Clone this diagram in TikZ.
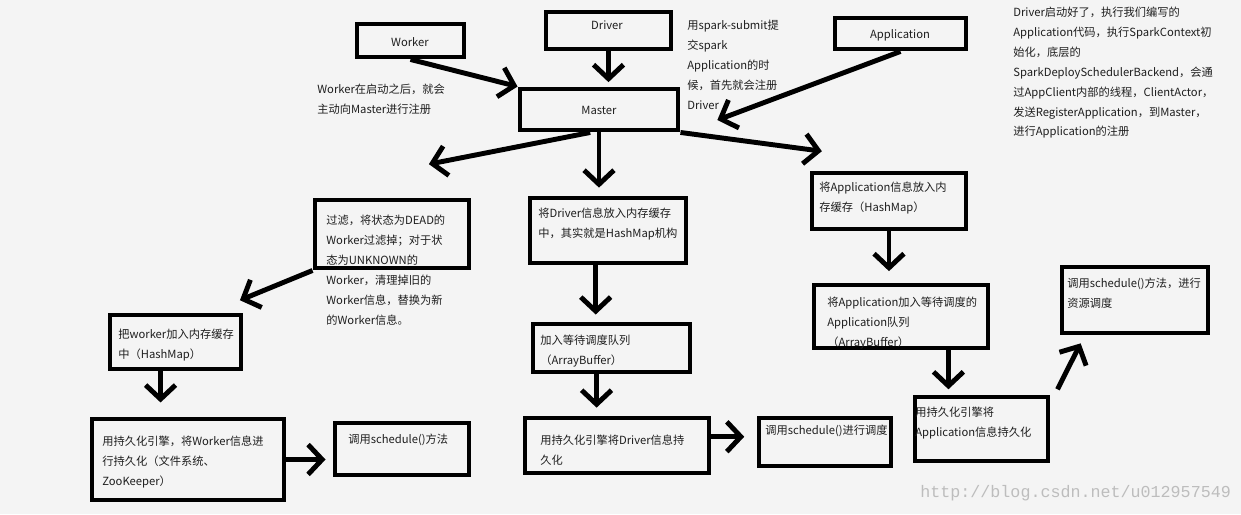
\documentclass[tikz,border=0pt]{standalone}
\usepackage{fontspec}
\setmainfont{Noto Sans CJK SC}
\newfontfamily\wmfont{Liberation Mono}
\usepackage{tikz}
\usetikzlibrary{arrows.meta}
\usetikzlibrary{fit}
\definecolor{bgcol}{HTML}{F4F4F4}
\definecolor{txtcol}{HTML}{1E1E1E}
\definecolor{wmcol}{HTML}{BDBDBD}
\tikzset{
  box/.style={draw=black, line width=2.8pt, inner sep=0pt},
  arr/.style={line width=2.8pt, -{Straight Barb[length=8pt,width=17pt]}},
  title/.style={anchor=base, inner sep=0pt, text=txtcol,
    font=\fontsize{6.4}{11.3}\selectfont},
  note/.style={anchor=north west, inner sep=0pt, align=left, text=txtcol,
    font=\fontsize{6.4}{11.3}\selectfont},
}

\begin{document}
\begin{tikzpicture}[x=0.02cm, y=-0.02cm]
\fill[bgcol] (0,0) rectangle (1241,514);
\useasboundingbox (0,0) rectangle (1241,514);
% draws boxes
\node[box, fit={(357,24) (464,57)}] (worker) {};
\node[box, fit={(546,12) (671,49)}] (driver) {};
\node[box, fit={(835,18) (966,49)}] (app) {};
\node[box, fit={(520,89) (678,130)}] (master) {};
\node[box, fit={(315,200) (469,268)}] (filter) {};
\node[box, fit={(530,198) (686,263)}] (dmap) {};
\node[box, fit={(812,173) (966,229)}] (amap) {};
\node[box, fit={(110,315) (241,369)}] (wmap) {};
\node[box, fit={(533,324) (690,372)}] (dbuf) {};
\node[box, fit={(814,285) (988,348)}] (abuf) {};
\node[box, fit={(92,419) (284,500)}] (wpers) {};
\node[box, fit={(335,423) (469,475)}] (sched1) {};
\node[box, fit={(525,418) (709,473)}] (dpers) {};
\node[box, fit={(759,418) (891,466)}] (sched2) {};
\node[box, fit={(915,397) (1048,461)}] (apers) {};
\node[box, fit={(1062,267) (1208,333)}] (sched3) {};
% writes texts
\node[title] (worker-t) at (410,46) {Worker};
\node[title] (driver-t) at (607,29) {Driver};
\node[title] (master-t) at (599,114) {Master};
\node[title] (app-t) at (900,38.5) {Application};
\node[note] (wnote) at (317,84) {Worker在启动之后，就会\\主动向Master进行注册};
\node[note] (dnote) at (687,20) {用spark-submit提\\交spark\\Application的时\\候，首先就会注册\\Driver};
\node[note] (anote) at (1013,7) {Driver启动好了，执行我们编写的\\Application代码，执行SparkContext初\\始化，底层的\\SparkDeploySchedulerBackend，会通\\过AppClient内部的线程，ClientActor，\\发送RegisterApplication，到Master，\\进行Application的注册};
\node[note] (filter-t) at (326,215) {过滤，将状态为DEAD的\\Worker过滤掉；对于状\\态为UNKNOWN的\\Worker，清理掉旧的\\Worker信息，替换为新\\的Worker信息。};
\node[note] (dmap-t) at (538,208) {将Driver信息放入内存缓存\\中，其实就是HashMap机构};
\node[note] (amap-t) at (819,182) {将Application信息放入内\\存缓存（HashMap）};
\node[note] (wmap-t) at (118,329) {把worker加入内存缓存\\中（HashMap）};
\node[note] (dbuf-t) at (540,335) {加入等待调度队列\\（ArrayBuffer）};
\node[note] (abuf-t) at (827,297) {将Application加入等待调度的\\Application队列\\（ArrayBuffer）};
\node[note] (wpers-t) at (102,436) {用持久化引擎，将Worker信息进\\行持久化（文件系统、\\ZooKeeper）};
\node[note] (sched1-t) at (348,434) {调用schedule()方法};
\node[note] (dpers-t) at (540,435) {用持久化引擎将Driver信息持\\久化};
\node[note] (sched2-t) at (765,425) {调用schedule()进行调度};
\node[note] (apers-t) at (915,407) {用持久化引擎将\\Application信息持久化};
\node[note] (sched3-t) at (1067,278) {调用schedule()方法，进行\\资源调度};
\node[anchor=west, inner sep=0pt, text=wmcol, font=\wmfont\fontsize{9.5}{10}\selectfont] (wm) at (920,493) {http://blog.csdn.net/u012957549};
% draws arrows
\coordinate (d1) at ([xshift=-7pt]dmap.south);
\coordinate (w1) at ([xshift=-8.5pt]wmap.south);
\coordinate (d2) at ([xshift=-8.5pt]dbuf.south);
\coordinate (a1) at ([xshift=27pt]abuf.south);
\coordinate (d3) at ([yshift=5pt]dpers.east);
\draw[arr] (worker.south) -- (master.north west);
\draw[arr, shorten >=2.5pt] (driver.south) -- (driver.south |- master.north);
\draw[arr] (app.south) -- ([shift={(21pt,-6pt)}]master.east);
\draw[arr] ([xshift=-5pt]master.south) -- ([shift={(21pt,19pt)}]filter.north);
\draw[arr, shorten >=4.5pt] (master.south) -- (master.south |- dmap.north);
\draw[arr] (master.south east) -- ([shift={(7pt,11pt)}]amap.north west);
\draw[arr] (filter.south west) -- ([shift={(-2pt,7pt)}]wmap.north east);
\draw[arr, shorten >=4pt] (d1) -- (d1 |- dbuf.north);
\draw[arr, shorten >=6.5pt] (amap.south) -- (amap.south |- abuf.north);
\draw[arr, shorten >=8pt] (w1) -- (w1 |- wpers.north);
\draw[arr, shorten >=4.5pt] (d2) -- (d2 |- dpers.north);
\draw[arr, shorten >=3pt] (a1) -- (a1 |- apers.north);
\draw[arr, shorten >=4pt] (wpers.east) -- (wpers.east -| sched1.west);
\draw[arr, shorten >=7pt] (d3) -- (d3 -| sched2.west);
\draw[arr] ([shift={(4pt,3pt)}]apers.north east) -- ([shift={(12pt,-4.5pt)}]sched3.south west);
\end{tikzpicture}
\end{document}
